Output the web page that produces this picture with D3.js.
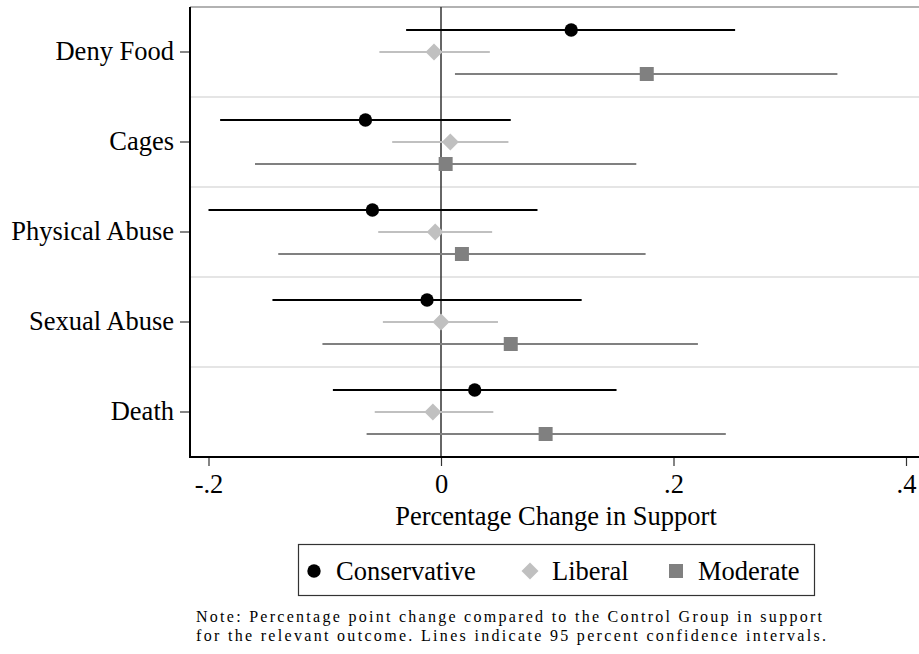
<!DOCTYPE html>
<html>
<head>
<meta charset="utf-8">
<script src="https://cdn.jsdelivr.net/npm/d3@7"></script>
<style>
  body { margin: 0; background: #fff; }
  svg { display: block; }
  text { font-family: "Liberation Serif", "Times New Roman", serif; fill: #000; }
</style>
</head>
<body>
<svg id="chart" width="919" height="654"></svg>
<script>
// categories (top to bottom) and groups
const categories = ["Deny Food", "Cages", "Physical Abuse", "Sexual Abuse", "Death"];
const groups = ["Conservative", "Liberal", "Moderate"];

// point estimates and 95% CI per category, one array per group
const conservativeEst = [0.112, -0.065, -0.059, -0.012, 0.029];
const conservativeLo  = [-0.030, -0.190, -0.200, -0.145, -0.093];
const conservativeHi  = [0.253, 0.060, 0.083, 0.121, 0.151];

const liberalEst = [-0.006, 0.008, -0.005, 0.000, -0.007];
const liberalLo  = [-0.053, -0.042, -0.054, -0.050, -0.057];
const liberalHi  = [0.042, 0.058, 0.044, 0.049, 0.045];

const moderateEst = [0.177, 0.004, 0.018, 0.060, 0.090];
const moderateLo  = [0.012, -0.160, -0.140, -0.102, -0.064];
const moderateHi  = [0.341, 0.168, 0.176, 0.221, 0.245];

const xTicks = [-0.2, 0, 0.2, 0.4];
const xTickLabels = ["-.2", "0", ".2", ".4"];

const noteLines = [
  "Note: Percentage point change compared to the Control Group in support",
  "for the relevant outcome. Lines indicate 95 percent confidence intervals."
];

const style = {
  Conservative: { color: "#000000", width: 2 },
  Liberal: { color: "#c0c0c0", width: 2 },
  Moderate: { color: "#808080", width: 2 }
};

const rows = [];
categories.forEach((c, i) => {
  rows.push({ cat: c, group: "Conservative", est: conservativeEst[i], lo: conservativeLo[i], hi: conservativeHi[i] });
  rows.push({ cat: c, group: "Liberal", est: liberalEst[i], lo: liberalLo[i], hi: liberalHi[i] });
  rows.push({ cat: c, group: "Moderate", est: moderateEst[i], lo: moderateLo[i], hi: moderateHi[i] });
});

const svg = d3.select("#chart");
const plotL = 190, plotR = 922, plotT = 7, plotB = 457;
const font = "'Liberation Serif', 'Times New Roman', serif";
const labelSize = 26.5;

const x = d3.scaleLinear().domain([-0.2, 0.4]).range([208.5, 906]);
const y = d3.scaleBand().domain(categories).range([plotT, plotB]);
const offset = d3.scalePoint().domain(groups).range([-22, 22]);
const yc = c => y(c) + y.bandwidth() / 2;

// category separators
svg.append("g").selectAll("line")
  .data(categories.slice(1))
  .join("line")
  .attr("x1", plotL).attr("x2", plotR)
  .attr("y1", d => y(d)).attr("y2", d => y(d))
  .attr("stroke", "#dddddd").attr("stroke-width", 1.5);

// top border
svg.append("line")
  .attr("x1", plotL).attr("x2", plotR).attr("y1", plotT).attr("y2", plotT)
  .attr("stroke", "#666").attr("stroke-width", 1.2);

// zero reference line
svg.append("line")
  .attr("x1", x(0)).attr("x2", x(0)).attr("y1", plotT).attr("y2", plotB)
  .attr("stroke", "#333").attr("stroke-width", 1.5);

// confidence intervals
svg.append("g").selectAll("line")
  .data(rows)
  .join("line")
  .attr("x1", d => x(d.lo)).attr("x2", d => x(d.hi))
  .attr("y1", d => yc(d.cat) + offset(d.group))
  .attr("y2", d => yc(d.cat) + offset(d.group))
  .attr("stroke", d => style[d.group].color)
  .attr("stroke-width", d => style[d.group].width);

// markers
const symbolFor = {
  Conservative: d3.symbol(d3.symbolCircle, 140),
  Liberal: d3.symbol(d3.symbolDiamond2, 184),
  Moderate: d3.symbol(d3.symbolSquare, 196)
};
svg.append("g").selectAll("path")
  .data(rows)
  .join("path")
  .attr("transform", d => `translate(${x(d.est)},${yc(d.cat) + offset(d.group)})`)
  .attr("d", d => symbolFor[d.group]())
  .attr("fill", d => style[d.group].color);

// x axis
const xAxis = d3.axisBottom(x)
  .tickValues(xTicks)
  .tickFormat((d, i) => xTickLabels[i])
  .tickSize(9)
  .tickSizeOuter(0);
const gx = svg.append("g").attr("transform", `translate(0,${plotB})`).call(xAxis);
gx.select(".domain").remove();
gx.append("line").attr("x1", plotL).attr("x2", plotR).attr("stroke", "#000").attr("stroke-width", 2);
gx.selectAll(".tick line").attr("stroke", "#333").attr("stroke-width", 1.2);
gx.selectAll(".tick text").attr("font-size", labelSize).attr("font-family", font).attr("fill", "#000").attr("dy", "0.9em");

// y axis
const yAxis = d3.axisLeft(y).tickSize(10).tickSizeOuter(0).tickPadding(6);
const gy = svg.append("g").attr("transform", `translate(${plotL},0)`).call(yAxis);
gy.select(".domain").remove();
gy.append("line").attr("y1", plotT).attr("y2", plotB + 1).attr("stroke", "#000").attr("stroke-width", 2);
gy.selectAll(".tick line").attr("stroke", "#333").attr("stroke-width", 1.2);
gy.selectAll(".tick text").attr("font-size", labelSize).attr("font-family", font).attr("fill", "#000");

// axis title
svg.append("text")
  .attr("x", (plotL + plotR) / 2).attr("y", 525)
  .attr("text-anchor", "middle").attr("font-size", labelSize).attr("font-family", font)
  .text("Percentage Change in Support");

// legend
const legend = svg.append("g");
legend.append("rect")
  .attr("x", 298.5).attr("y", 544.5).attr("width", 516).attr("height", 51)
  .attr("fill", "#fff").attr("stroke", "#333").attr("stroke-width", 1.2);
const legendX = [314, 530, 676];
groups.forEach((g, i) => {
  legend.append("path")
    .attr("transform", `translate(${legendX[i]},571)`)
    .attr("d", symbolFor[g]())
    .attr("fill", style[g].color);
  legend.append("text")
    .attr("x", legendX[i] + 22).attr("y", 580)
    .attr("font-size", labelSize).attr("font-family", font)
    .text(g);
});

// note
const noteWidths = [626, 630];
svg.append("g").selectAll("text")
  .data(noteLines)
  .join("text")
  .attr("x", 196).attr("y", (d, i) => 622 + i * 18.5)
  .attr("font-size", 16).attr("font-family", font)
  .attr("textLength", (d, i) => noteWidths[i])
  .attr("lengthAdjust", "spacing")
  .text(d => d);
</script>
</body>
</html>
